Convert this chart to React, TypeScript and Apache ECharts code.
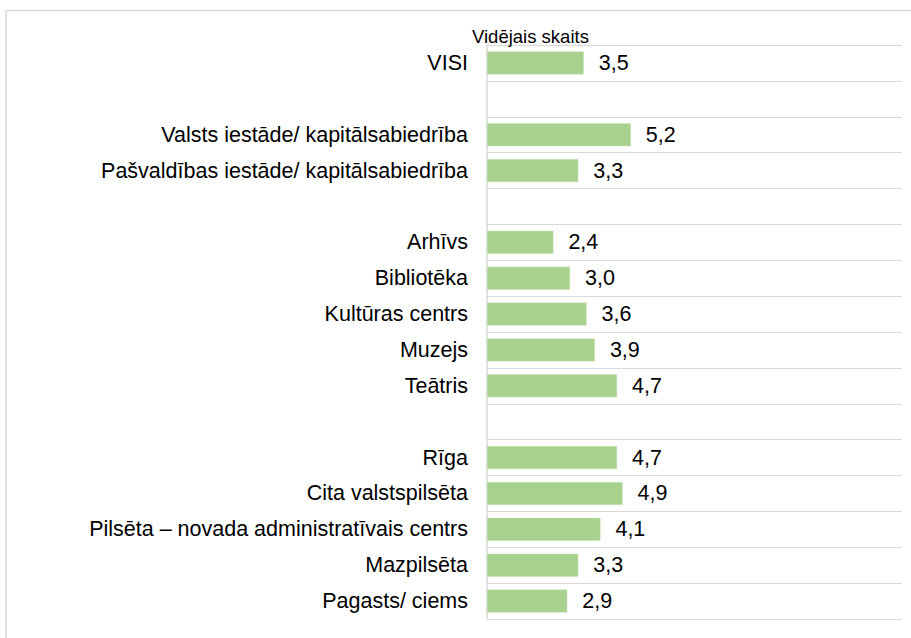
import React, { useEffect, useRef } from "react";
import * as echarts from "echarts";

const categories: string[] = [
  "VISI",
  " ",
  "Valsts iestāde/ kapitālsabiedrība",
  "Pašvaldības iestāde/ kapitālsabiedrība",
  "  ",
  "Arhīvs",
  "Bibliotēka",
  "Kultūras centrs",
  "Muzejs",
  "Teātris",
  "   ",
  "Rīga",
  "Cita valstspilsēta",
  "Pilsēta – novada administratīvais centrs",
  "Mazpilsēta",
  "Pagasts/ ciems",
];

const values: (number | null)[] = [
  3.5, null, 5.2, 3.3, null, 2.4, 3.0, 3.6, 3.9, 4.7, null, 4.7, 4.9, 4.1, 3.3, 2.9,
];

const axisTitle = "Vidējais skaits";

const FONT = "'Liberation Sans', Arial, sans-serif";

export default function App() {
  const ref = useRef<HTMLDivElement>(null);
  useEffect(() => {
    if (!ref.current) return;
    const chart = echarts.init(ref.current, undefined, { renderer: "svg" });
    chart.setOption({
      animation: false,
      backgroundColor: "#ffffff",
      title: {
        text: axisTitle,
        left: 472,
        top: 27,
        padding: 0,
        textStyle: { fontFamily: FONT, fontSize: 18.5, fontWeight: "normal", color: "#000" },
      },
      graphic: [
        { type: "line", shape: { x1: 6, y1: 10.5, x2: 911, y2: 10.5 }, style: { stroke: "#d9d9d9", lineWidth: 1.5 } },
        { type: "line", shape: { x1: 6, y1: 10, x2: 6, y2: 638 }, style: { stroke: "#d9d9d9", lineWidth: 1.5 } },
      ],
      grid: { left: 487, right: 9, top: 45, bottom: 19, containLabel: false },
      xAxis: {
        type: "value",
        min: 0,
        max: 15,
        show: false,
        splitLine: { show: false },
      },
      yAxis: {
        type: "category",
        inverse: true,
        data: categories,
        axisLine: { show: true, lineStyle: { color: "#d9d9d9", width: 1.5 } },
        axisTick: { show: false },
        axisLabel: { fontFamily: FONT, fontSize: 21.5, color: "#000", margin: 19 },
        splitLine: { show: true, lineStyle: { color: "#d9d9d9", width: 1 } },
      },
      series: [
        {
          type: "bar",
          data: values.map((v) => (v === null ? "-" : v)),
          barWidth: 23,
          itemStyle: { color: "#a9d18e", borderColor: "#c5e0b4", borderWidth: 0.5 },
          label: {
            show: true,
            position: "right",
            distance: 15,
            fontFamily: FONT,
            fontSize: 21.5,
            color: "#000",
            formatter: (p: any) => Number(p.value).toFixed(1).replace(".", ","),
          },
        },
      ],
    });
    return () => chart.dispose();
  }, []);
  return (
    <div
      ref={ref}
      style={{ position: "fixed", left: 0, top: 0, width: 911, height: 638 }}
    />
  );
}
